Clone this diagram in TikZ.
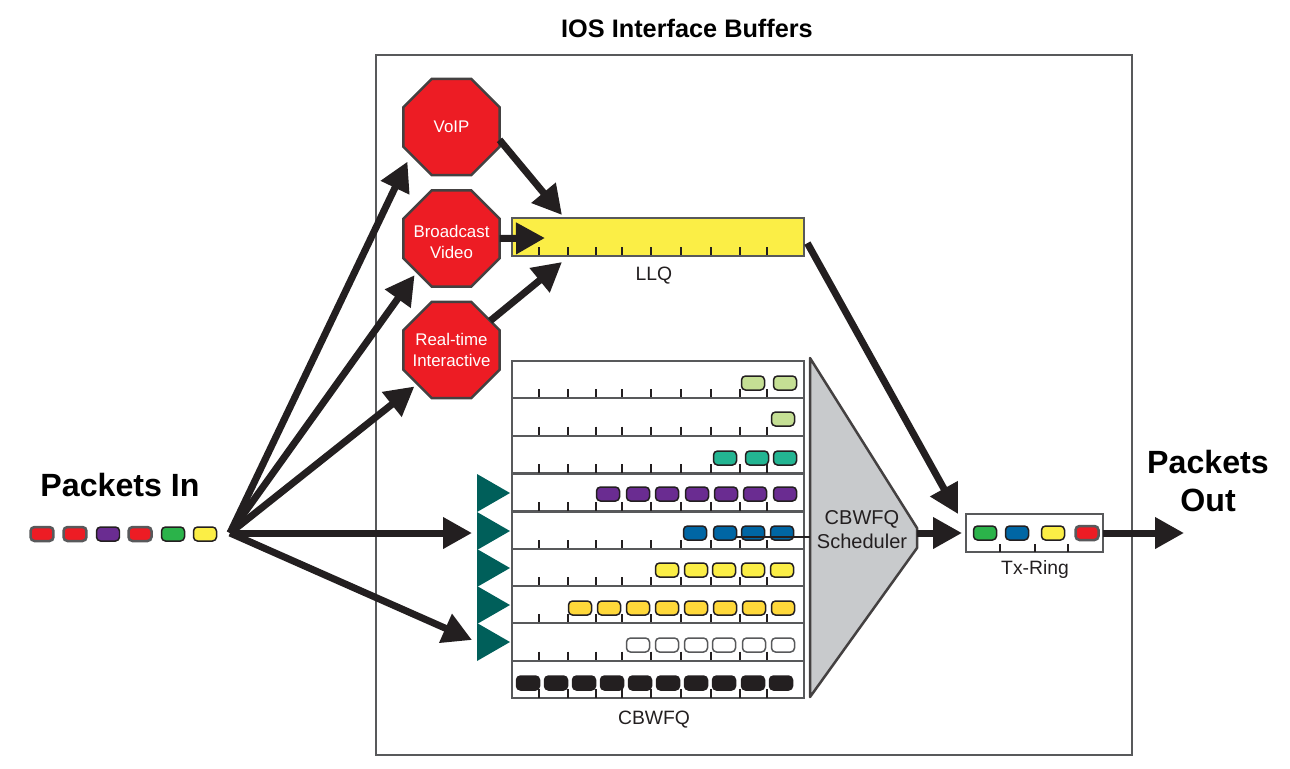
\documentclass[tikz,border=0pt]{standalone}
\usepackage{fontspec}
\setmainfont{Liberation Sans}
\usepackage{tikz}
\usetikzlibrary{arrows.meta}
\usetikzlibrary{positioning}
\usetikzlibrary{shapes.geometric}

\definecolor{stopred}{HTML}{ED1C24}
\definecolor{llqyellow}{HTML}{FBEE46}
\definecolor{pktlime}{HTML}{C5DF94}
\definecolor{pktteal}{HTML}{23B592}
\definecolor{pktpurple}{HTML}{6A2C91}
\definecolor{pktblue}{HTML}{0066A4}
\definecolor{pktgold}{HTML}{FFD83A}
\definecolor{pktgreen}{HTML}{2BB34A}
\definecolor{pktblack}{HTML}{231F20}
\definecolor{triteal}{HTML}{005F5A}
\definecolor{schedgray}{HTML}{C8CACC}
\definecolor{rulegray}{HTML}{58595B}

\tikzset{
    bigarrow/.style={draw=pktblack, line width=0.14cm, -{Triangle[length=0.58cm, width=0.6cm]}},
    stopsign/.style={draw=pktblack!85, fill=stopred, line width=0.05cm, regular polygon, regular polygon sides=8, minimum size=2.08cm, inner sep=0pt, outer sep=0pt},
    signtext/.style={text=white, font=\fontsize{9.6}{12.4}\selectfont, align=center, inner sep=0pt},
    queuebox/.style={draw=rulegray, line width=0.045cm, minimum width=5.84cm, minimum height=0.75cm, inner sep=0pt, outer sep=0pt},
    pkt/.style={draw=pktblack, line width=0.03cm, rounded corners=0.08cm, minimum width=0.46cm, minimum height=0.28cm, inner sep=0pt, outer sep=0pt},
    redpkt/.style={pkt, fill=stopred, draw=rulegray, line width=0.05cm},
    tickmark/.style={draw=pktblack, line width=0.025cm},
    feeder/.style={isosceles triangle, isosceles triangle stretches, minimum height=0.66cm, minimum width=0.76cm, inner sep=0pt, outer sep=0pt, fill=triteal, anchor=apex},
    lbl/.style={text=pktblack, font=\fontsize{11}{13}\selectfont, inner sep=0pt},
    biglbl/.style={text=black, font=\bfseries\fontsize{18.3}{21.6}\selectfont, align=center, inner sep=0pt}
}

\begin{document}
\begin{tikzpicture}[x=0.02cm, y=-0.02cm]
    \useasboundingbox (0,0) rectangle (1290,768);

    % Outer frame and title
    \node [draw=rulegray, line width=0.03cm, minimum width=15.12cm, minimum height=14cm, outer sep=0pt] (frame) at (754,405) {};
    \node [font=\bfseries\fontsize{14.4}{17}\selectfont, inner sep=0pt] (title) at (687,28) {IOS Interface Buffers};

    % Classifier stop signs
    \node [stopsign, label={[signtext]center:VoIP}] (voip) at (451.5,127) {};
    \node [stopsign, label={[signtext, yshift=-0.07cm]center:Broadcast\\Video}] (bvideo) at (451.5,238.5) {};
    \node [stopsign, label={[signtext]center:Real-time\\Interactive}] (rtint) at (451.5,350) {};

    % LLQ
    \node [queuebox, fill=llqyellow] (llq) at (658,237) {};
    \node [lbl] (llqlabel) at (654,276) {LLQ};
    \foreach \x in {539,568,596,622,651,681,711,740,767}
        \draw [tickmark] (\x,247) -- (\x,255);

    % CBWFQ rows
    \foreach \y [count=\r] in {379.5,417,454.5,492.5,530.5,567.5,604.5,642,679.5} {
        \node [queuebox] (row\r) at (658,\y) {};
        \foreach \x in {539,568,596,622,651,681,711,740,767}
            \draw [tickmark] (\x,\y+9.5) -- (\x,\y+18);
    }
    \node [lbl] (cbwfqlabel) at (654,720) {CBWFQ};

    % Packets in the rows
    \foreach \x [count=\i] in {753,785}
        \node [pkt, fill=pktlime] (ra\i) at (\x,383) {};
    \node [pkt, fill=pktlime] (rb1) at (783,419) {};
    \foreach \x [count=\i] in {725,757,785}
        \node [pkt, fill=pktteal] (rc\i) at (\x,458) {};
    \foreach \x [count=\i] in {608,638,667,697,726,755,785}
        \node [pkt, fill=pktpurple] (rd\i) at (\x,494) {};
    \foreach \x [count=\i] in {695,725,753,782}
        \node [pkt, fill=pktblue] (re\i) at (\x,533) {};
    \foreach \x [count=\i] in {667,696,724,753,782}
        \node [pkt, fill=llqyellow] (rf\i) at (\x,570) {};
    \foreach \x [count=\i] in {580,609,638,667,696,725,754,783}
        \node [pkt, fill=pktgold] (rg\i) at (\x,608) {};
    \foreach \x [count=\i] in {638,667,696,724,754,783}
        \node [pkt, fill=white, draw=rulegray] (rh\i) at (\x,645) {};
    \foreach \x [count=\i] in {528,556,584,612,640,668,696,724,753,781}
        \node [pkt, fill=pktblack] (ri\i) at (\x,683) {};

    % Feeders in front of the rows
    \foreach \y [count=\i] in {493,531,568,605,642}
        \node [feeder] (tri\i) at (510,\y) {};

    % Scheduler
    \coordinate (schedtl) at (810,358);
    \coordinate (schedtr) at (917,528);
    \coordinate (schedbr) at (917,548);
    \coordinate (schedbl) at (810,697);
    \coordinate (schedout) at (917,533);
    \draw [draw=pktblack!85, fill=schedgray, line width=0.05cm, line join=round] (schedtl) -- (schedtr) -- (schedbr) -- (schedbl) -- cycle;
    \node [lbl, font=\fontsize{11.4}{13.6}\selectfont, align=center] (sched) at (862,530) {CBWFQ\\Scheduler};
    \coordinate (blueline) at (736,537);
    \draw [draw=pktblack, line width=0.03cm] (blueline) -- (schedtl |- blueline);

    % Tx-Ring
    \node [draw=rulegray, line width=0.035cm, minimum width=2.74cm, minimum height=0.76cm, inner sep=0pt, outer sep=0pt] (txring) at (1034.5,533) {};
    \node [lbl] (txlabel) at (1035,569) {Tx-Ring};
    \foreach \x in {1000,1035,1068}
        \draw [tickmark] (\x,544) -- (\x,552);
    \node [pkt, fill=pktgreen] (txa) at (985,533) {};
    \node [pkt, fill=pktblue] (txb) at (1017,533) {};
    \node [pkt, fill=llqyellow] (txc) at (1053,533) {};
    \node [redpkt] (txd) at (1087,533) {};

    % Packets In
    \node [biglbl] (pktinlabel) at (120,485) {Packets In};
    \node [redpkt] (ina) at (42,534) {};
    \node [redpkt] (inb) at (75,534) {};
    \node [pkt, fill=pktpurple] (inc) at (108,534) {};
    \node [redpkt] (ind) at (140,534) {};
    \node [pkt, fill=pktgreen] (ine) at (173,534) {};
    \node [pkt, fill=llqyellow] (inf) at (205,534) {};

    % Packets Out
    \node [biglbl] (pktoutlabel) at (1208,481) {Packets\\Out};

    % Free ends
    \coordinate (fan) at (230,533);
    \coordinate (trimid) at (472,533);
    \coordinate (trilow) at (472,640);
    \coordinate (llqtop) at (562,215);
    \coordinate (llqmid) at (545,238);
    \coordinate (llqbot) at (562,262);
    \coordinate (txtop) at (958,514);
    \coordinate (pktout) at (1184,533);

    % Connections (Arrows)
    \draw [bigarrow, shorten >=0.16cm] (fan) -- (voip.214);
    \draw [bigarrow, shorten >=0.08cm] (fan) -- (bvideo.224);
    \draw [bigarrow, shorten >=0.08cm] (fan) -- (rtint.225);
    \draw [bigarrow] (fan) -- (trimid);
    \draw [bigarrow] (fan) -- (trilow);
    \draw [bigarrow] (voip.-15) -- (llqtop);
    \draw [bigarrow] (bvideo.east) -- (llqmid);
    \draw [bigarrow] (rtint.37) -- (llqbot);
    \draw [bigarrow, shorten <=0.14cm] (llq.east) -- (txtop);
    \draw [bigarrow, shorten >=0.08cm] (schedout) -- (txring.west);
    \draw [bigarrow] (txring.east) -- (pktout);

\end{tikzpicture}
\end{document}
